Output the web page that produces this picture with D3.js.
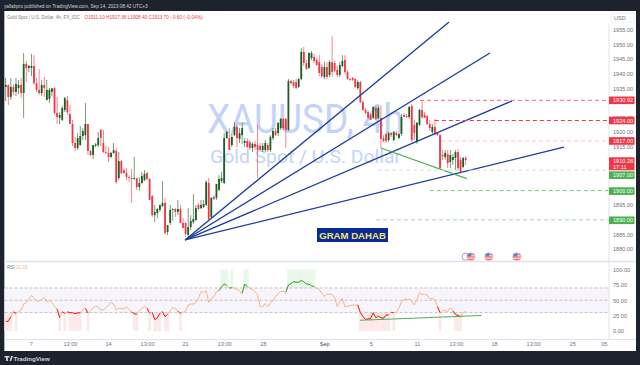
<!DOCTYPE html>
<html lang="en">
<head>
  <meta charset="UTF-8">
  <title>XAUUSD 4h</title>
  <script src="https://d3js.org/d3.v7.min.js"></script>
  <style>
    body { margin: 0; padding: 0; background: #1e222d; }
    svg { display: block; font-family: 'Liberation Sans', sans-serif; }
    .axis path, .axis line { display: none; }
    .axis text { font-size: 5.6px; fill: #6f7280; font-family: 'Liberation Sans', sans-serif; }
  </style>
</head>
<body>
  <div id="chart"></div>
  <script>
    // 4h candles, left to right
    const opens = [
      1935.5,1936.2,1932.1,1935.5,1933.8,1935.1,1936.2,1933.4,1943.4,1942.0,
      1942.0,1942.7,1936.8,1934.5,1933.4,1936.2,1931.0,1931.4,1933.8,1935.1,
      1926.6,1924.9,1924.2,1927.6,1931.0,1926.2,1922.8,1916.3,1914.6,1915.6,
      1918.7,1919.0,1922.8,1913.6,1912.2,1915.3,1915.6,1920.8,1916.3,1913.2,
      1912.9,1911.5,1912.9,1913.6,1904.3,1910.1,1907.0,1906.0,1904.6,1904.3,
      1904.0,1904.3,1901.2,1902.6,1903.6,1906.0,1904.0,1898.1,1891.6,1892.3,
      1893.4,1894.7,1895.8,1885.8,1888.9,1893.4,1893.7,1892.7,1893.7,1888.9,
      1888.9,1884.8,1887.5,1889.2,1889.9,1895.1,1894.0,1894.4,1895.1,1902.6,
      1891.0,1897.8,1897.5,1900.2,1903.3,1902.6,1918.0,1918.0,1915.6,1919.0,
      1921.8,1917.7,1919.0,1916.3,1917.0,1916.6,1914.6,1916.0,1915.6,1915.3,
      1913.9,1913.9,1915.6,1913.9,1918.0,1920.4,1919.7,1921.4,1924.5,1924.5,
      1920.8,1937.5,1937.2,1937.2,1935.5,1938.2,1947.5,1943.7,1942.0,1945.4,
      1945.8,1944.7,1944.0,1942.3,1938.9,1942.3,1939.6,1944.0,1943.7,1941.3,
      1939.6,1942.7,1944.7,1940.6,1938.2,1938.6,1938.2,1935.1,1937.2,1930.3,
      1927.6,1926.9,1925.9,1924.9,1928.3,1924.9,1924.9,1918.0,1919.4,1917.3,
      1919.7,1917.3,1919.7,1918.0,1919.4,1925.9,1925.5,1925.2,1929.0,1922.5,
      1916.6,1922.5,1927.6,1925.9,1925.5,1922.8,1920.1,1921.8,1919.7,1919.0,
      1912.2,1911.5,1912.5,1909.8,1910.5,1911.2,1913.2,1910.5,1908.1,1911.2
    ];
    const highs = [
      1938.6,1936.2,1938.6,1936.5,1938.6,1937.9,1938.6,1947.1,1944.4,1943.0,
      1946.8,1946.4,1938.6,1941.6,1937.9,1938.9,1937.9,1935.1,1935.1,1935.5,
      1932.1,1926.9,1929.0,1932.1,1932.4,1929.3,1924.2,1918.4,1919.7,1922.1,
      1921.4,1930.0,1922.8,1913.9,1915.6,1916.3,1920.1,1921.1,1920.8,1915.3,
      1914.9,1913.2,1916.3,1914.6,1913.2,1910.5,1907.7,1907.7,1905.3,1907.4,
      1911.5,1904.3,1904.6,1906.4,1907.0,1906.4,1904.3,1898.5,1895.1,1894.0,
      1895.1,1903.3,1897.5,1888.2,1895.1,1894.0,1894.0,1896.8,1895.1,1890.6,
      1889.2,1894.0,1891.6,1898.8,1895.1,1895.8,1896.8,1896.8,1903.6,1904.3,
      1897.8,1898.5,1901.9,1905.3,1906.4,1919.7,1920.4,1921.4,1919.7,1923.5,
      1922.5,1921.4,1923.2,1918.0,1918.0,1917.3,1916.6,1917.0,1922.5,1916.3,
      1916.3,1917.3,1916.3,1919.0,1921.4,1921.4,1923.5,1924.9,1924.9,1924.9,
      1938.2,1937.9,1937.9,1938.2,1938.6,1948.8,1949.2,1944.7,1947.5,1947.8,
      1946.8,1945.4,1946.4,1943.4,1944.0,1944.0,1944.7,1952.9,1944.4,1942.7,
      1944.0,1946.4,1946.4,1941.3,1938.6,1938.9,1938.6,1937.9,1937.5,1931.0,
      1928.3,1927.6,1926.6,1929.0,1929.0,1929.0,1929.3,1919.0,1920.1,1920.1,
      1920.1,1920.4,1920.4,1919.7,1926.2,1926.6,1926.2,1929.0,1929.7,1924.2,
      1923.5,1928.0,1931.0,1926.9,1925.9,1924.2,1922.8,1924.5,1920.1,1919.4,
      1913.9,1913.9,1913.9,1913.9,1912.5,1913.9,1914.2,1911.5,1911.5,1911.8
    ];
    const lows = [
      1930.7,1929.3,1931.0,1932.7,1932.4,1933.1,1931.7,1924.9,1937.2,1940.6,
      1939.2,1936.2,1933.8,1932.7,1932.4,1932.1,1931.0,1930.0,1932.4,1925.9,
      1922.8,1922.8,1923.8,1926.9,1925.9,1922.8,1915.3,1913.6,1913.9,1915.3,
      1917.3,1917.3,1912.2,1911.8,1910.8,1914.9,1914.9,1915.3,1912.9,1912.5,
      1909.8,1911.2,1912.5,1902.3,1903.6,1905.7,1905.7,1903.6,1902.9,1895.8,
      1903.6,1900.2,1899.9,1902.3,1903.3,1903.6,1896.8,1891.0,1889.2,1890.6,
      1892.7,1894.4,1884.8,1884.8,1888.2,1889.6,1891.0,1891.6,1888.9,1887.2,
      1884.1,1884.1,1886.5,1888.6,1889.6,1893.4,1893.7,1894.0,1894.7,1889.9,
      1890.6,1896.8,1896.8,1899.9,1902.6,1902.3,1917.7,1913.9,1914.9,1918.7,
      1914.9,1916.3,1916.0,1914.9,1914.6,1913.9,1913.2,1913.9,1904.3,1913.9,
      1913.2,1913.2,1913.2,1913.2,1917.3,1918.7,1918.7,1920.8,1920.8,1914.6,
      1920.4,1936.2,1935.1,1934.8,1935.1,1937.9,1942.7,1941.3,1941.6,1944.7,
      1943.7,1942.7,1939.2,1938.6,1938.2,1938.2,1938.9,1938.9,1940.6,1938.9,
      1938.9,1942.3,1939.9,1937.9,1937.5,1937.5,1935.1,1934.5,1930.0,1927.3,
      1926.2,1924.5,1924.2,1924.5,1924.2,1924.5,1914.6,1916.6,1916.3,1916.6,
      1918.4,1917.0,1918.7,1917.7,1918.7,1925.2,1924.9,1924.5,1916.6,1917.3,
      1916.0,1922.1,1924.5,1924.9,1922.5,1920.4,1919.4,1919.0,1918.7,1907.4,
      1910.5,1910.5,1907.7,1907.7,1908.8,1907.0,1907.0,1906.0,1907.7,1908.8
    ];
    const closes = [
      1936.2,1932.1,1935.5,1933.8,1936.5,1936.2,1933.4,1943.4,1942.0,1942.7,
      1942.7,1936.8,1934.5,1933.4,1936.2,1935.1,1934.5,1934.5,1935.0,1926.6,
      1925.2,1925.9,1928.3,1931.7,1926.9,1922.8,1916.3,1914.6,1918.0,1918.7,
      1920.4,1922.8,1913.6,1912.2,1915.6,1915.8,1918.0,1918.0,1913.2,1912.9,
      1911.5,1912.9,1913.9,1902.9,1910.1,1906.0,1906.0,1904.6,1904.3,1904.0,
      1904.3,1901.2,1902.6,1905.0,1905.7,1904.0,1896.8,1891.6,1892.7,1893.7,
      1895.1,1895.8,1885.5,1888.2,1893.4,1893.7,1892.7,1893.7,1888.9,1887.2,
      1885.1,1887.5,1889.6,1890.3,1894.0,1893.7,1895.1,1895.4,1902.9,1890.3,
      1897.5,1897.1,1902.3,1904.0,1904.3,1918.0,1920.1,1913.9,1918.4,1921.8,
      1918.0,1919.7,1921.4,1917.0,1914.9,1914.6,1916.0,1914.9,1913.9,1913.9,
      1915.3,1916.3,1913.9,1918.4,1920.4,1919.0,1923.2,1924.5,1921.4,1920.8,
      1937.5,1936.8,1935.8,1935.1,1938.2,1947.5,1943.7,1941.6,1947.1,1947.1,
      1944.4,1943.0,1940.3,1939.2,1942.3,1938.9,1944.0,1940.6,1941.0,1939.6,
      1943.0,1944.4,1940.6,1938.2,1937.9,1937.9,1935.5,1937.2,1930.3,1927.6,
      1926.6,1924.9,1924.2,1928.6,1924.5,1928.3,1917.7,1917.0,1917.0,1919.7,
      1919.0,1920.1,1919.0,1919.4,1925.2,1925.2,1925.2,1928.6,1917.3,1919.7,
      1923.2,1927.6,1925.2,1924.9,1922.8,1921.4,1921.8,1919.4,1919.0,1907.7,
      1911.8,1912.9,1909.4,1912.2,1911.5,1913.2,1907.7,1906.4,1911.2,1910.5
    ];

    // RSI per bar
    const rsi = [
      15.7,15.7,23.3,31.0,28.8,31.5,34.2,43.9,46.1,51.5,
      57.5,54.2,48.8,48.8,51.0,54.8,47.7,49.9,46.6,39.6,
      35.8,21.7,31.0,28.8,31.0,29.8,29.8,28.2,29.3,29.8,
      34.7,36.9,29.3,33.6,38.0,40.1,39.1,34.2,34.7,38.0,
      42.3,46.6,43.9,34.2,36.9,36.9,35.8,39.1,34.7,30.9,
      28.2,27.1,32.5,36.9,39.6,36.9,28.8,30.4,18.5,21.2,
      28.8,31.5,23.3,27.1,33.1,38.5,36.3,32.5,28.2,30.4,
      32.5,42.3,43.9,43.9,46.1,53.1,64.0,62.9,65.1,46.6,
      53.1,55.9,64.0,65.6,72.1,76.4,74.3,69.7,70.5,69.7,
      67.8,65.1,61.3,76.4,72.1,69.4,67.8,64.0,58.6,39.6,
      39.6,45.0,39.6,45.0,50.4,56.4,60.2,64.0,64.5,62.9,
      74.8,77.0,80.2,79.2,79.2,82.4,79.7,76.4,75.9,73.7,
      72.1,69.7,67.8,61.3,55.9,59.6,59.6,59.6,54.2,39.6,
      47.7,53.1,39.6,40.1,41.2,41.8,42.3,42.3,29.8,23.3,
      18.9,19.5,20.6,29.8,21.7,23.9,21.7,20.6,26.0,26.0,
      30.4,29.8,30.4,36.9,47.7,51.0,52.0,51.5,48.8,42.3,
      50.4,62.9,59.6,59.6,58.6,52.0,53.1,50.4,39.6,29.8,
      33.1,33.1,31.5,38.0,32.5,27.1,24.9,23.3,30.4,31.5
    ];

    // price axis, time axis. 1930, 1910, 1905, 1900 and 1890 sit under the tags so they are left out
    const priceTicks = [1955,1950,1945,1940,1935,1925,1920,1915,1895,1885,1880];
    const rsiTicks = [100,75,50,25,0];
    const timeTickBars = [9.8,25,39.8,55,69.8,85,100.1,123.9,142.1,160,175.2,190,205.2,220.4,232.7];
    const timeTickLabels = ["7","13:00","14","13:00","21","13:00","28","Sep","5","11","13:00","18","13:00","25","05"];

    // horizontal levels: price, first bar they start from
    const resistancePrices = [1930.92,1924,1917];
    const resistanceBars = [161.2,167,169.4];
    const supportPrices = [1907,1900,1890];
    const supportBars = [144.9,165,144.1];

    // blue fan drawn from the August low
    const fanOriginBar = 69.8;
    const fanOriginPrice = 1883.1;
    const fanEndBars = [172.5,188.4,197,217.2];
    const fanEndPrices = [1957.7,1947.1,1930.7,1914.9];

    // green trend lines
    const priceTrendBars = [146,179.4];
    const priceTrendPrices = [1914.6,1904.1];
    const rsiTrendBars = [137.9,185.2];
    const rsiTrendValues = [17.5,25.2];

    const eventBars = [181,188,198.9];

    const width = 640;
    const height = 365;
    const left = 4.5;
    const priceAxisX = 609;
    const right = 636;

    const x = d3.scaleLinear().domain([0, 180]).range([5.7, 468.3]);
    const y = d3.scaleLinear().domain([1955, 1880]).range([30, 249]);
    const yRsi = d3.scaleLinear().domain([100, 0]).range([269.5, 331]);

    const green = "#1b5e20";
    const red = "#f23645";
    const blue = "#1a3a9c";
    const lineGreen = "#4caf50";
    const axisLine = "#e0e3eb";

    const svg = d3.select("#chart").append("svg")
      .attr("width", width)
      .attr("height", height);

    const defs = svg.append("defs");
    defs.append("clipPath").attr("id", "plot")
      .append("rect").attr("x", left).attr("y", 11).attr("width", priceAxisX - left).attr("height", 250);

    // frame
    svg.append("rect").attr("width", width).attr("height", height).attr("fill", "#1e222d");
    svg.append("rect").attr("x", left).attr("y", 11)
      .attr("width", right - left).attr("height", 340).attr("fill", "#fff");
    svg.append("line").attr("x1", left).attr("x2", left).attr("y1", 11).attr("y2", 351)
      .attr("stroke", "#b2b5be").attr("stroke-width", 1);

    svg.append("text").attr("x", 4).attr("y", 8)
      .attr("font-size", 4.7).attr("fill", "#d1d4dc")
      .text("yallabpro published on TradingView.com, Sep 14, 2023 08:42 UTC+3");

    // legend
    svg.append("text").attr("x", 7).attr("y", 18.5)
      .attr("font-size", 4.6).attr("fill", "#7a7d88")
      .text("Gold Spot / U.S. Dollar, 4h, FX_IDC");
    svg.append("text").attr("x", 84.5).attr("y", 18.5)
      .attr("font-size", 4.7).attr("fill", "#f23645")
      .text("O1911.10  H1917.36  L1908.40  C1913.70  \u22120.60 (\u22120.04%)");

    // watermark
    svg.append("text").attr("x", 207).attr("y", 132.5)
      .attr("font-size", 40).attr("fill", "#c3d3fb")
      .attr("font-family", "Roboto, sans-serif")
      .attr("textLength", 197).attr("lengthAdjust", "spacingAndGlyphs")
      .text("XAUUSD, 4h");
    svg.append("text").attr("x", 210).attr("y", 163)
      .attr("font-size", 18).attr("fill", "#c3d3fb")
      .attr("font-family", "Roboto, sans-serif")
      .attr("textLength", 191).attr("lengthAdjust", "spacingAndGlyphs")
      .text("Gold Spot / U.S. Dollar");

    // candles
    const plot = svg.append("g").attr("clip-path", "url(#plot)");
    const isUp = i => closes[i] >= opens[i];
    const candles = plot.selectAll(".candle").data(opens.map((o, i) => i)).enter().append("g").attr("class", "candle");
    candles.append("rect")
      .attr("x", i => x(i) - 0.4)
      .attr("width", 0.8)
      .attr("y", i => y(highs[i]))
      .attr("height", i => y(lows[i]) - y(highs[i]))
      .attr("fill", i => isUp(i) ? green : red)
      .attr("opacity", 0.75);
    candles.append("rect")
      .attr("x", i => x(i) - 0.9)
      .attr("width", 1.8)
      .attr("y", i => y(Math.max(opens[i], closes[i])))
      .attr("height", i => Math.max(0.7, Math.abs(y(opens[i]) - y(closes[i]))))
      .attr("fill", i => isUp(i) ? green : red);

    // fan lines
    plot.selectAll(".fan").data(fanEndBars).enter().append("line")
      .attr("class", "fan")
      .attr("x1", x(fanOriginBar))
      .attr("y1", y(fanOriginPrice))
      .attr("x2", d => x(d))
      .attr("y2", (d, i) => y(fanEndPrices[i]))
      .attr("stroke", blue)
      .attr("stroke-width", 1.3);

    plot.append("line")
      .attr("x1", x(priceTrendBars[0])).attr("y1", y(priceTrendPrices[0]))
      .attr("x2", x(priceTrendBars[1])).attr("y2", y(priceTrendPrices[1]))
      .attr("stroke", lineGreen).attr("stroke-width", 1.1);

    // levels
    const levelColors = ["#f7656f", "#f23645", "#fbc4c8", "#c8e6c9", "#81c784", "#a5d6a7"];
    const levelPrices = resistancePrices.concat(supportPrices);
    const levelBars = resistanceBars.concat(supportBars);
    svg.selectAll(".level").data(levelPrices).enter().append("line")
      .attr("class", "level")
      .attr("x1", (d, i) => x(levelBars[i]))
      .attr("x2", priceAxisX)
      .attr("y1", d => y(d))
      .attr("y2", d => y(d))
      .attr("stroke", (d, i) => levelColors[i])
      .attr("stroke-width", 1)
      .attr("stroke-dasharray", "4 3");

    // GRAM DAHAB tag
    svg.append("rect").attr("x", 317).attr("y", 228).attr("width", 71).attr("height", 14).attr("fill", "#0a2a9a");
    svg.append("text").attr("x", 352.5).attr("y", 238.5)
      .attr("text-anchor", "middle")
      .attr("font-size", 9.6).attr("font-weight", "bold").attr("fill", "#f5e663")
      .text("GRAM DAHAB");

    // event flags along the bottom of the price pane
    svg.append("circle").attr("cx", 465.7).attr("cy", 256.7).attr("r", 3.6)
      .attr("fill", "#fff").attr("stroke", "#ba68c8").attr("stroke-width", 0.8);
    eventBars.forEach((b, k) => {
      const cx = x(b);
      defs.append("clipPath").attr("id", "flag" + k)
        .append("circle").attr("cx", cx).attr("cy", 256.7).attr("r", 4);
      const f = svg.append("g").attr("clip-path", `url(#flag${k})`);
      f.append("rect").attr("x", cx - 4).attr("y", 252.7).attr("width", 8).attr("height", 8).attr("fill", "#fbe3e3");
      [254, 256.4, 258.8].forEach(sy => {
        f.append("rect").attr("x", cx - 4).attr("y", sy).attr("width", 8).attr("height", 1.2).attr("fill", "#ee6b6e");
      });
      f.append("rect").attr("x", cx - 4).attr("y", 252.7).attr("width", 4.4).attr("height", 3.8).attr("fill", "#3f8fe0");
      svg.append("circle").attr("cx", cx).attr("cy", 256.7).attr("r", 4)
        .attr("fill", "none").attr("stroke", "#ef9a9a").attr("stroke-width", 0.7);
    });

    // RSI pane
    svg.append("line").attr("x1", left).attr("x2", right).attr("y1", 261.5).attr("y2", 261.5)
      .attr("stroke", axisLine).attr("stroke-width", 1.4);
    svg.append("rect").attr("x", left).attr("width", priceAxisX - left)
      .attr("y", yRsi(70)).attr("height", yRsi(30) - yRsi(70)).attr("fill", "#f8f4fb");
    const barStep = x(1) - x(0);
    svg.selectAll(".rsiLow").data(rsi.map((d, i) => i).filter(i => rsi[i] < 30)).enter().append("rect")
      .attr("class", "rsiLow")
      .attr("x", i => x(i) - barStep / 2)
      .attr("width", barStep + 0.1)
      .attr("y", yRsi(30))
      .attr("height", yRsi(0) - yRsi(30))
      .attr("fill", "#fde8e9");
    svg.selectAll(".rsiHigh").data(rsi.map((d, i) => i).filter(i => rsi[i] > 70)).enter().append("rect")
      .attr("class", "rsiHigh")
      .attr("x", i => x(i) - barStep / 2)
      .attr("width", barStep + 0.1)
      .attr("y", yRsi(100))
      .attr("height", yRsi(70) - yRsi(100))
      .attr("fill", "#e9f6ea");
    svg.selectAll(".band").data([70, 50, 30]).enter().append("line")
      .attr("class", "band")
      .attr("x1", left).attr("x2", priceAxisX)
      .attr("y1", d => yRsi(d)).attr("y2", d => yRsi(d))
      .attr("stroke", "#b4b6bd").attr("stroke-width", 0.8)
      .attr("stroke-dasharray", "3 2");

    const rsiLine = d3.line().x(d => x(d)).y(d => yRsi(rsi[d]));
    svg.append("path")
      .attr("d", rsiLine(rsi.map((d, i) => i)))
      .attr("fill", "none")
      .attr("stroke", "#f7b682")
      .attr("stroke-width", 1);
    // below 30 goes red, above 70 goes green
    rsi.forEach((d, i) => {
      if (i === 0 || (d >= 30 && d <= 70)) return;
      svg.append("path")
        .attr("d", rsiLine([i - 1, i]))
        .attr("fill", "none")
        .attr("stroke", d < 30 ? "#f0202c" : "#27b03a")
        .attr("stroke-width", 1);
    });
    svg.append("line")
      .attr("x1", x(rsiTrendBars[0])).attr("y1", yRsi(rsiTrendValues[0]))
      .attr("x2", x(rsiTrendBars[1])).attr("y2", yRsi(rsiTrendValues[1]))
      .attr("stroke", lineGreen).attr("stroke-width", 1.1);

    svg.append("text").attr("x", 7).attr("y", 269)
      .attr("font-size", 4.6).attr("fill", "#7a7d88").text("RSI");
    svg.append("text").attr("x", 16).attr("y", 269)
      .attr("font-size", 4.6).attr("fill", "#f7b682").text("31.16");

    // axes
    svg.append("line").attr("x1", priceAxisX).attr("x2", priceAxisX).attr("y1", 24).attr("y2", 339)
      .attr("stroke", axisLine);
    svg.append("line").attr("x1", left).attr("x2", right).attr("y1", 339.5).attr("y2", 339.5)
      .attr("stroke", axisLine).attr("stroke-width", 1.2);

    svg.append("g").attr("class", "axis")
      .attr("transform", `translate(${priceAxisX + 4},0)`)
      .call(d3.axisRight(y).tickValues(priceTicks).tickSize(0).tickPadding(0).tickFormat(d3.format(".2f")));
    svg.append("g").attr("class", "axis")
      .attr("transform", `translate(${priceAxisX + 4},0)`)
      .call(d3.axisRight(yRsi).tickValues(rsiTicks).tickSize(0).tickPadding(0).tickFormat(d3.format(".2f")));
    const timeAxis = svg.append("g").attr("class", "axis")
      .attr("transform", "translate(0,341)")
      .call(d3.axisBottom(x).tickValues(timeTickBars).tickSize(0).tickPadding(1)
        .tickFormat((d, i) => timeTickLabels[i]));
    timeAxis.selectAll("text").filter(d => d === 123.9).style("fill", "#3a3d48");

    // USD button
    svg.append("rect").attr("x", 611).attr("y", 13).attr("width", 23).attr("height", 9)
      .attr("fill", "#fff").attr("stroke", axisLine).attr("stroke-width", 0.6);
    svg.append("text").attr("x", 614).attr("y", 20).attr("font-size", 5.6).attr("fill", "#6f7280").text("USD");

    // price tags on the axis
    const tagColors = ["#f23645", "#f23645", "#f23645", "#4caf50", "#4caf50", "#4caf50"];
    const tagNudge = [0, 0, 0, 5, 0.5, 0.5];
    const tags = svg.selectAll(".tag").data(levelPrices).enter().append("g").attr("class", "tag")
      .attr("transform", (d, i) => `translate(${priceAxisX},${y(d) + tagNudge[i]})`);
    tags.append("rect").attr("y", -3.8).attr("width", 25.5).attr("height", 7.6)
      .attr("fill", (d, i) => tagColors[i]);
    tags.append("text").attr("x", 4).attr("y", 2)
      .attr("font-size", 5.6).attr("fill", "#fff")
      .text(d => d.toFixed(2));

    svg.append("rect").attr("x", priceAxisX).attr("y", 157.3).attr("width", 25.5).attr("height", 13)
      .attr("fill", "#f23645");
    svg.append("text").attr("x", priceAxisX + 4).attr("y", 163)
      .attr("font-size", 5.6).attr("fill", "#fff").text("1910.28");
    svg.append("text").attr("x", priceAxisX + 4).attr("y", 169)
      .attr("font-size", 5.6).attr("fill", "#fff").text("17:11");

    // TradingView footer
    const foot = svg.append("g").attr("fill", "#d1d4dc");
    foot.append("path").attr("d", "M4.5 356h5v1.6h-1.6v3.4h-1.8v-3.4h-1.6zM9.5 361l1.7-5h1.8l-1.9 5z");
    foot.append("text").attr("x", 13.5).attr("y", 361)
      .attr("font-size", 6.2).attr("font-weight", "bold").text("TradingView");
  </script>
</body>
</html>
